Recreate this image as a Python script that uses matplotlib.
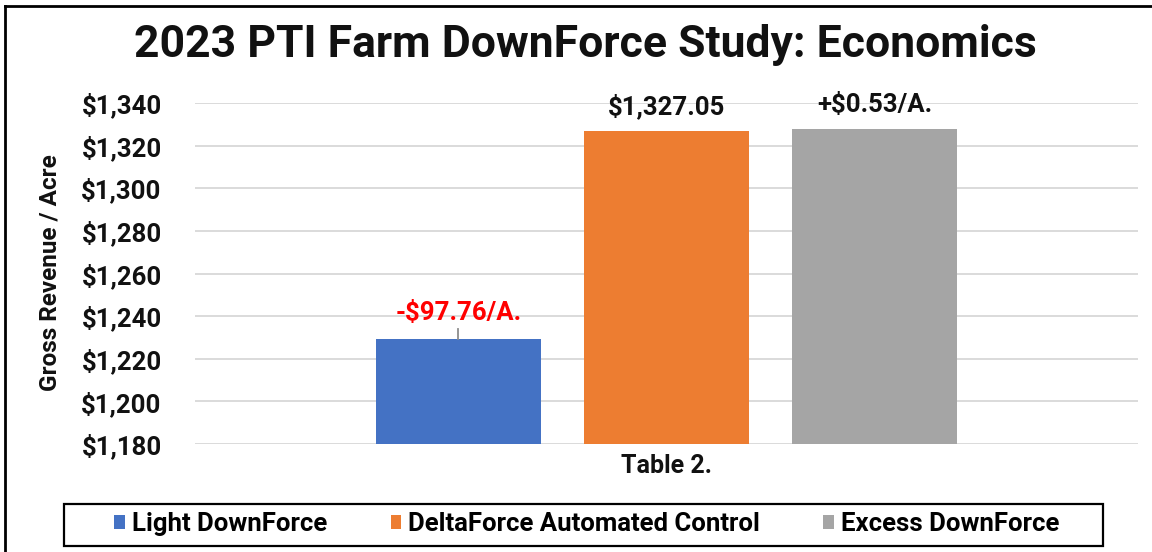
import matplotlib
matplotlib.use("Agg")
import matplotlib.pyplot as plt
from matplotlib.patches import Patch, Rectangle
from matplotlib.lines import Line2D

plt.rcParams['font.family'] = ['Roboto', 'DejaVu Sans']

# ---- data ----
title = "2023 PTI Farm DownForce Study: Economics"
category = "Table 2."
series = ["Light DownForce", "DeltaForce Automated Control", "Excess DownForce"]
values = [1229.29, 1327.05, 1327.58]
bar_labels = ["-\\$97.76/A.", "\\$1,327.05", "+\\$0.53/A."]
label_colors = ["#ff0000", "#111111", "#111111"]
colors = ["#4472C4", "#ED7D31", "#A5A5A5"]
yticks = [1180, 1200, 1220, 1240, 1260, 1280, 1300, 1320, 1340]
ytick_labels = ["\\$1,180", "\\$1,200", "\\$1,220", "\\$1,240", "\\$1,260",
                "\\$1,280", "\\$1,300", "\\$1,320", "\\$1,340"]
ylabel = "Gross Revenue / Acre"

W, H = 1152, 552
fig = plt.figure(figsize=(W / 100, H / 100), dpi=100)
fig.patch.set_facecolor("white")

ax = fig.add_axes([195 / W, 1 - 444 / H, (1138 - 195) / W, (444 - 103) / H])
offsets = [-1, 0, 1]
bw = 0.79
for i, (s, v, c) in enumerate(zip(series, values, colors)):
    ax.bar(offsets[i], v - yticks[0], bottom=yticks[0], width=bw, color=c,
           label=s, zorder=3)

ax.set_ylim(yticks[0], yticks[-1])
ax.set_xlim(-2.265, 2.265)
ax.set_yticks(yticks)
ax.set_yticklabels(ytick_labels, fontsize=18.5, fontweight="bold", color="#111111")
ax.set_xticks([0])
ax.set_xticklabels([category], fontsize=18, fontweight="bold", color="#111111")
ax.tick_params(axis="y", length=0, pad=24)
ax.tick_params(axis="x", length=0, pad=7)
ax.grid(axis="y", color="#d4d4d4", linewidth=1.2, zorder=0)
for sp in ax.spines.values():
    sp.set_visible(False)

# value labels
for i, (v, lab, lc) in enumerate(zip(values, bar_labels, label_colors)):
    off = 18.7 if i == 0 else 17.3
    ax.annotate(lab, xy=(offsets[i], v), xytext=(0, off), textcoords="offset points",
                ha="center", va="center", fontsize=18.5, fontweight="bold", color=lc,
                zorder=5)
# leader line for red label
ax.plot([offsets[0], offsets[0]], [values[0], values[0] + 4.7], color="#8c8c8c",
        lw=1.3, zorder=4)

fig.text(50 / W, 1 - 273 / H, ylabel, rotation=90, ha="center", va="center",
         fontsize=17.5, fontweight="bold", color="#111111")

fig.text(585 / W, 1 - 45 / H, title, ha="center", va="center",
         fontsize=32, fontweight="bold", color="#111111")

# legend
handles = [Patch(facecolor=c, edgecolor="none") for c in colors]
fig.legend(handles, series, loc="center", bbox_to_anchor=(587 / W, 1 - 524 / H),
           ncol=3, frameon=False, prop=dict(size=18.5, weight="bold"),
           handlelength=0.4, handleheight=0.5, handletextpad=0.3,
           columnspacing=2.45, borderaxespad=0)
fig.patches.append(Rectangle((64 / W, 1 - 546 / H), (1103 - 64) / W, 42 / H,
                             transform=fig.transFigure, fill=False,
                             edgecolor="black", linewidth=1.6))

# outer frame (left + top)
fig.lines.append(Line2D([5 / W, 5 / W], [0, 1 - 6 / H], transform=fig.transFigure,
                        color="black", linewidth=2))
fig.lines.append(Line2D([5 / W, 1], [1 - 6 / H, 1 - 6 / H], transform=fig.transFigure,
                        color="black", linewidth=2))

fig.savefig("out.png", dpi=100, facecolor="white")
